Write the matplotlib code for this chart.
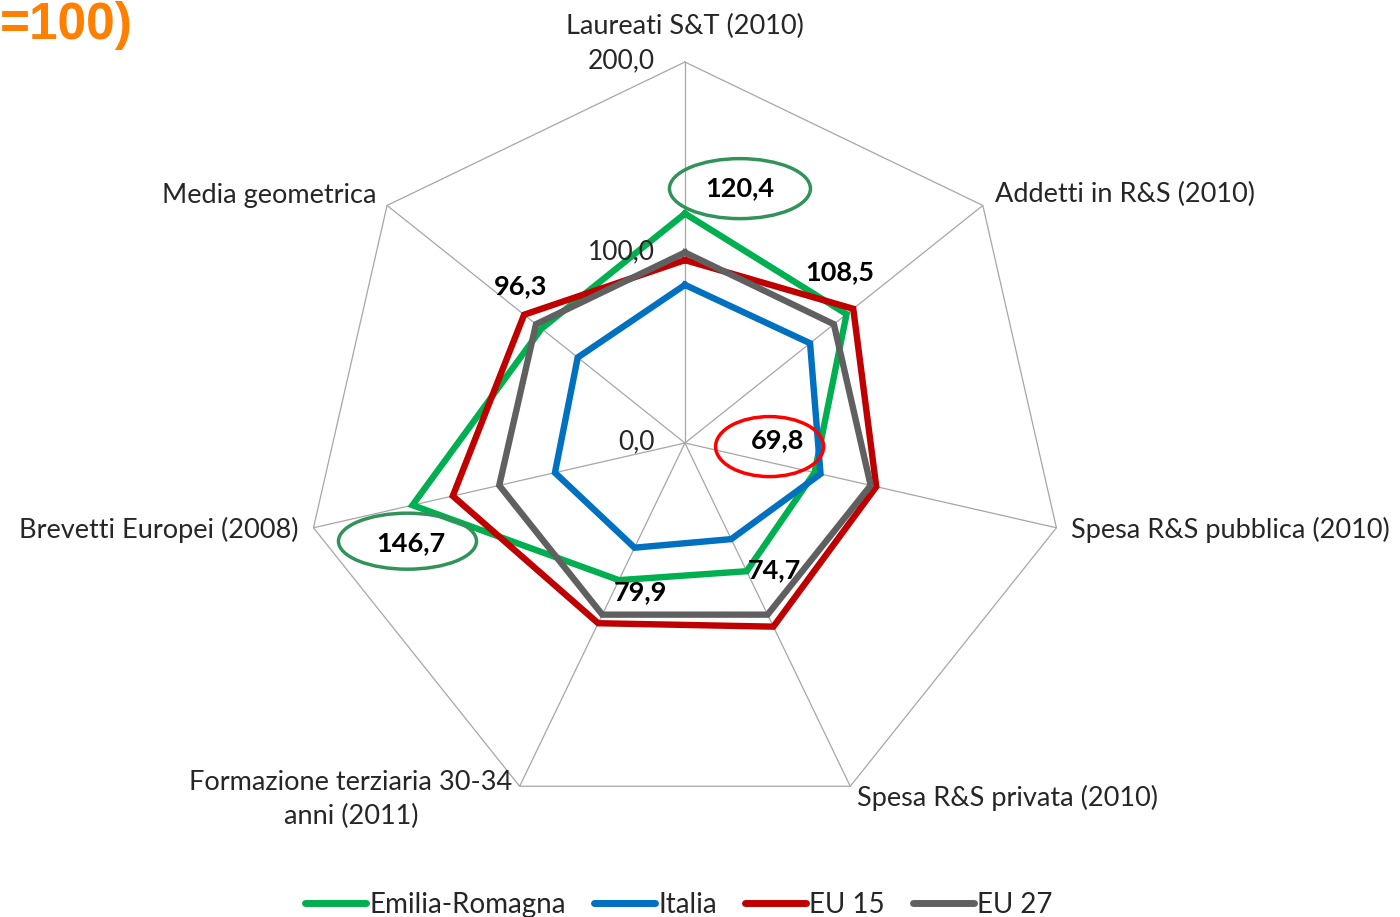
import numpy as np
import matplotlib
matplotlib.use('Agg')
import matplotlib.pyplot as plt
from matplotlib.patches import Ellipse
from matplotlib.transforms import IdentityTransform

plt.rcParams['font.family'] = ['Lato', 'DejaVu Sans']

# dati (EU27 = 100)
categorie = ['Laureati S&T (2010)', 'Addetti in R&S (2010)', 'Spesa R&S pubblica (2010)',
             'Spesa R&S privata (2010)', 'Formazione terziaria 30-34\nanni (2011)',
             'Brevetti Europei (2008)', 'Media geometrica']
emilia = [120.4, 108.5, 69.8, 74.7, 79.9, 146.7, 96.3]
italia = [83, 84, 73, 56, 61, 70, 72]
eu15 = [96, 113, 103, 107, 105, 125, 108]
eu27 = [100, 100, 100, 100, 100, 100, 100]
serie = ['Emilia-Romagna', 'Italia', 'EU 15', 'EU 27']
colori = ['#00B050', '#0070C0', '#C00000', '#606060']
etichette_r = [0, 100, 200]

n = len(categorie)
ang = np.arange(n) * 2 * np.pi / n
ang_c = np.append(ang, ang[0])

fig = plt.figure(figsize=(14, 9.17), dpi=100)
ax = fig.add_axes([0.2171, 0.1014, 0.5443, 0.8310], projection='polar')
ax.set_theta_offset(np.pi / 2)
ax.set_theta_direction(-1)
ax.set_ylim(0, 200)
ax.set_yticks([])
ax.set_xticks(ang)
ax.set_xticklabels([])
ax.xaxis.grid(True, color='#A6A6A6', lw=0.9)
ax.yaxis.grid(False)
ax.spines['polar'].set_visible(False)
ax.plot(ang_c, [200] * (n + 1), color='#A6A6A6', lw=0.9, clip_on=False)

# serie
for vals, nome, col in zip([emilia, italia, eu15, eu27], serie, colori):
    v = np.append(vals, vals[0])
    ax.plot(ang_c, v, color=col, lw=4.6, label=nome, solid_joinstyle='miter',
            clip_on=False)

# etichette categorie
off_cat = [(0, 36, 'center'), (12, 11, 'left'), (15, -2, 'left'), (7, -12, 'left'),
           (-7, -13, 'right'), (-15, -2, 'right'), (-11, 10, 'right')]
for a, lab, (dx, dy, ha) in zip(ang, categorie, off_cat):
    ax.annotate(lab, xy=(a, 200), xytext=(dx, dy), textcoords='offset pixels',
                ha=ha, va='center', fontsize=19.5, color='#262626',
                multialignment='center', linespacing=1.45, annotation_clip=False)

# etichette asse radiale
for r in etichette_r:
    ax.annotate(('%.1f' % r).replace('.', ','), xy=(0, r), xytext=(-30, 1),
                textcoords='offset pixels', ha='right', va='center', fontsize=19,
                color='#262626', annotation_clip=False)

# valori Emilia-Romagna
off_val = [(55, 25), (-7, 42), (-37, 32), (28, 1), (22, -12), (-2, -38), (-21, 42)]
for a, v, (dx, dy) in zip(ang, emilia, off_val):
    ax.annotate(('%.1f' % v).replace('.', ','), xy=(a, v), xytext=(dx, dy),
                textcoords='offset pixels', ha='center', va='center', fontsize=19.5,
                fontweight='bold', color='black', annotation_clip=False)

# ellissi di evidenza (indice punto, spostamento px, larghezza, altezza, colore)
evidenze = [(0, 55, 25, 141, 60, '#31925A'), (5, -5, -36, 138, 56, '#31925A'),
            (2, -45, 26, 108, 60, '#FF0000')]
fig.canvas.draw()
for i, dx, dy, w, h, col in evidenze:
    cx, cy = ax.transData.transform((ang[i], emilia[i]))
    fig.patches.append(Ellipse((cx + dx, cy + dy), w, h, fc='none', ec=col, lw=2.5,
                               transform=IdentityTransform(), figure=fig))

fig.text(133 / 1400, 1 - 25 / 917, '=100)', ha='right', va='center', fontsize=37,
         fontweight='bold', color='#FF8000', family='Liberation Sans')

leg = fig.legend(loc='lower center', bbox_to_anchor=(0.485, -0.028), ncol=4,
                 frameon=False, fontsize=20, handlelength=2.2, handletextpad=0.12,
                 columnspacing=1.0)
for hl in leg.get_lines():
    hl.set_linewidth(5)
    hl.set_solid_capstyle('round')
for t in leg.get_texts():
    t.set_color('#262626')

fig.savefig('out.png', dpi=100)
